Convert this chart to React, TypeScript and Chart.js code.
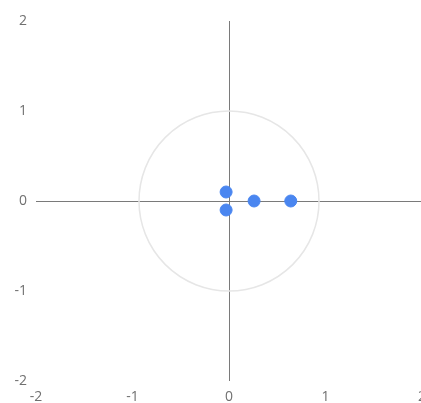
import React, { useEffect, useRef } from "react";
import { Chart, registerables } from "chart.js";

Chart.register(...registerables);

const pointXs: number[] = [-0.03, -0.03, 0.26, 0.64];
const pointYs: number[] = [0.1, -0.1, 0, 0];
const axisMin = -2;
const axisMax = 2;
const circleRadius = 1;

const circlePlugin = {
  id: "unitCircle",
  beforeDatasetsDraw(chart: any) {
    const { ctx, scales } = chart;
    const xs = scales.x;
    const ys = scales.y;
    const cx = xs.getPixelForValue(0);
    const cy = ys.getPixelForValue(0);
    const r = Math.abs(ys.getPixelForValue(circleRadius) - cy);
    ctx.save();
    ctx.beginPath();
    ctx.arc(cx, cy, r, 0, Math.PI * 2);
    ctx.strokeStyle = "#e6e6e6";
    ctx.lineWidth = 1.5;
    ctx.stroke();
    ctx.restore();
  },
};

export default function App() {
  const ref = useRef<HTMLCanvasElement | null>(null);
  useEffect(() => {
    if (!ref.current) return;
    const data = pointXs.map((x, i) => ({ x, y: pointYs[i] }));
    const zeroGrid = (c: any) => (c.tick && c.tick.value === 0 ? "#7a7a7a" : "rgba(0,0,0,0)");
    const tickFont = { family: "'Open Sans', sans-serif", size: 14 };
    const chart = new Chart(ref.current, {
      type: "scatter",
      data: {
        datasets: [
          {
            data,
            backgroundColor: "#4a86f0",
            borderColor: "#4a86f0",
            pointRadius: 6,
            pointHoverRadius: 6,
          },
        ],
      },
      options: {
        animation: false,
        responsive: false,
        layout: { padding: { top: 21, right: 18, left: 0, bottom: 0 } },
        plugins: { legend: { display: false }, tooltip: { enabled: false } },
        scales: {
          x: {
            type: "linear",
            min: axisMin,
            max: axisMax,
            ticks: { stepSize: 1, color: "#707070", font: tickFont, padding: 8 },
            grid: { color: zeroGrid, drawTicks: false, lineWidth: 1 },
            border: { display: false },
            afterFit: (s: any) => {
              s.height = 22;
            },
          },
          y: {
            type: "linear",
            min: axisMin,
            max: axisMax,
            ticks: { stepSize: 1, color: "#707070", font: tickFont, padding: 9 },
            grid: { color: zeroGrid, drawTicks: false, lineWidth: 1 },
            border: { display: false },
            afterFit: (s: any) => {
              s.width = 36;
            },
          },
        },
      },
      plugins: [circlePlugin],
    });
    return () => chart.destroy();
  }, []);
  return (
    <div style={{ position: "fixed", left: 0, top: 0, width: 440, height: 403, background: "#fff" }}>
      <canvas ref={ref} width={440} height={403} />
    </div>
  );
}
